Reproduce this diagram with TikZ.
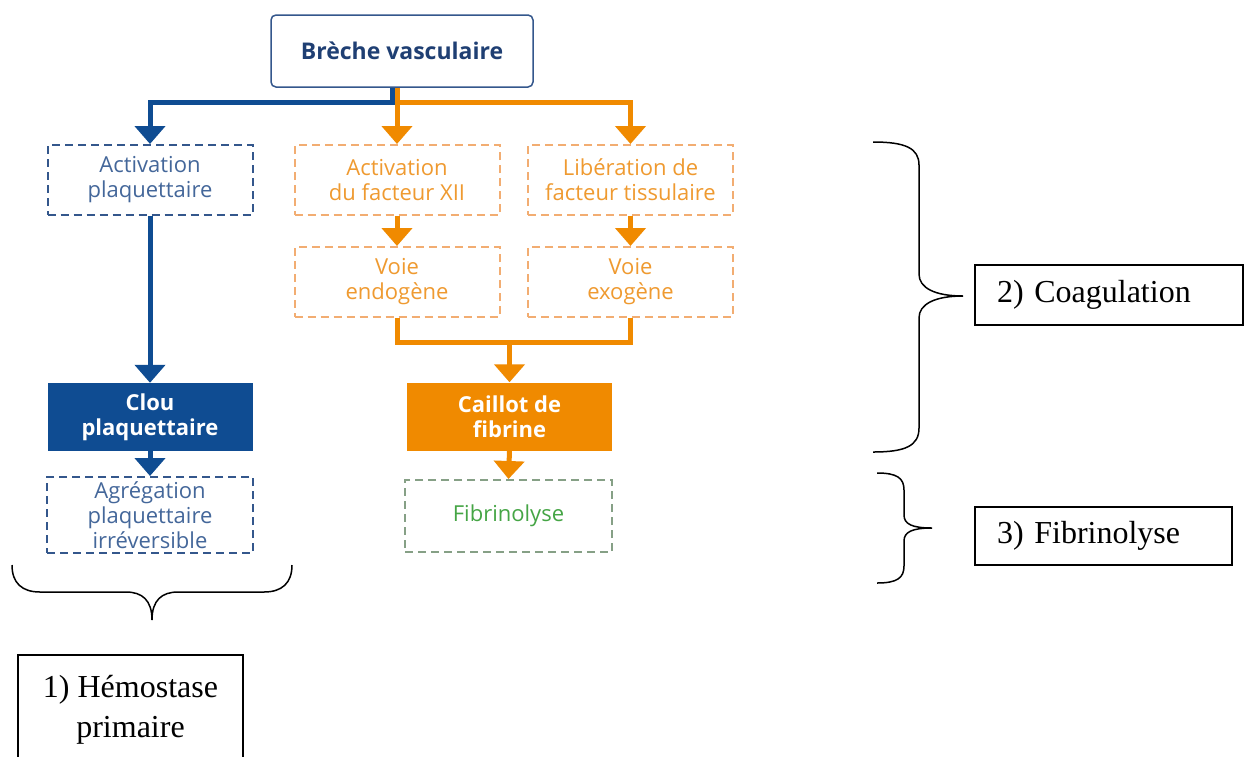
\documentclass[tikz,border=0pt]{standalone}
\usepackage{fontspec}
\setmainfont{Liberation Serif}
\newfontfamily\osans{Open Sans}
\usetikzlibrary{arrows.meta,calc}
\definecolor{navy}{HTML}{0F4C92}
\definecolor{navytxt}{HTML}{1F3F73}
\definecolor{bluedash}{HTML}{34578C}
\definecolor{bluetxt}{HTML}{44679A}
\definecolor{orng}{HTML}{F08A00}
\definecolor{orngdash}{HTML}{F2AD72}
\definecolor{orngtxt}{HTML}{EF9A30}
\definecolor{grdash}{HTML}{86A086}
\definecolor{grtxt}{HTML}{45A545}
\begin{document}
\begin{tikzpicture}[x=1pt,y=-1pt,
  every node/.style={inner sep=0pt, align=center},
  sans/.style={font=\osans\fontsize{22}{25}\selectfont},
  dashbox/.style={sans, draw, line width=2pt, dash pattern=on 8pt off 5pt, fill=white, minimum width=205pt, minimum height=70pt},
  bluebox/.style={dashbox, draw=bluedash, text=bluetxt},
  orangebox/.style={dashbox, draw=orngdash, text=orngtxt},
  greenbox/.style={dashbox, draw=grdash, text=grtxt},
  solidbox/.style={font=\osans\bfseries\fontsize{22}{25}\selectfont, text=white, minimum width=205pt, minimum height=68pt},
  label/.style={draw=black, line width=1.2pt, font=\fontsize{32}{40}\selectfont, text=black},
  bline/.style={draw=navy, line width=5pt, line join=miter},
  oline/.style={draw=orng, line width=5pt, line join=miter},
  tip/.style={-{Triangle[width=30pt,length=18pt]}},
  brace/.style={draw=black, line width=1.5pt}
]
\useasboundingbox (0,0) rectangle (1244,756);
\clip (0,0) rectangle (1244,756);
\fill[white] (0,0) rectangle (1244,756);

% flowchart nodes
\node[draw=bluedash, line width=1.5pt, rounded corners=5pt, fill=white, minimum width=262pt, minimum height=72pt,
      text=navytxt, font=\osans\bfseries\fontsize{23}{27}\selectfont] (breche) at (402,51) {Brèche vasculaire};

\node[bluebox] (actp) at (150,180) {Activation\\plaquettaire};
\node[orangebox] (act12) at (397,180) {Activation\\du facteur XII};
\node[orangebox] (lib) at (630.5,180) {Libération de\\facteur tissulaire};
\node[orangebox] (endo) at (397,282) {Voie\\endogène};
\node[orangebox] (exo) at (630.5,282) {Voie\\exogène};

\node[solidbox, fill=navy] (clou) at (150,417) {Clou\\plaquettaire};
\node[solidbox, fill=orng] (caillot) at (509.5,416.5) {Caillot de\\fibrine};

\node[bluebox, minimum height=76pt, minimum width=206pt] (agr) at (150,515) {Agrégation\\plaquettaire\\irréversible};
\node[greenbox, minimum height=72pt, minimum width=207pt] (fib) at (508.5,516) {Fibrinolyse};

% connectors
\draw[oline, tip] ($(breche.south)+(-5,0)$) -- (act12.north);
\draw[oline, tip] ($(breche.south)+(-5,15)$) -| (lib.north);
\draw[bline, tip] ($(breche.south)+(-10,0)$) -- ++(0,15) -| (actp.north);
\draw[bline, tip] (actp.south) -- (clou.north);
\draw[bline, tip] (clou.south) -- (agr.north);
\draw[oline, tip] (act12.south) -- (endo.north);
\draw[oline, tip] (lib.south) -- (exo.north);
\coordinate (merge) at (509.5,342);
\draw[oline] (endo.south) |- (exo.south |- merge) -- (exo.south);
\draw[oline, tip] (merge) -- (caillot.north);
\draw[oline, tip] (caillot.south) -- (fib.north);

% braces
\draw[brace] (12,565) .. controls (12,583) and (22,592) .. (40,592) -- (126,592)
  .. controls (142,592) and (152,600) .. (152,620)
  .. controls (152,600) and (162,592) .. (178,592) -- (264,592)
  .. controls (282,592) and (292,583) .. (292,565);
\draw[brace] (873,142) .. controls (905,142) and (919,148) .. (919,165) -- (919,274)
  .. controls (919,288) and (935,296) .. (963,296)
  .. controls (935,296) and (919,304) .. (919,318) -- (919,428)
  .. controls (919,446) and (905,452) .. (873,452);
\draw[brace] (877,473) .. controls (897,473) and (904,478) .. (904,490) -- (904,515)
  .. controls (904,524) and (912,528) .. (932,528)
  .. controls (912,528) and (904,532) .. (904,541) -- (904,566)
  .. controls (904,578) and (897,583) .. (877,583);

% labels
\node[label, minimum width=225pt, minimum height=109pt] (lab1) at (130.5,709.5) {1) Hémostase\\primaire};
\node[label, minimum height=60pt, text width=224pt, inner xsep=22pt, align=left] (lab2) at (1109,295) {2) Coagulation};
\node[label, minimum height=58pt, text width=213pt, inner xsep=22pt, align=left] (lab3) at (1103.5,536) {3) Fibrinolyse};
\end{tikzpicture}
\end{document}
